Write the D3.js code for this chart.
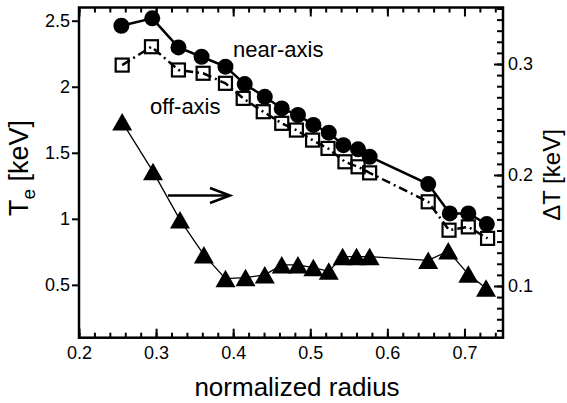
<!DOCTYPE html>
<html>
<head>
<meta charset="utf-8">
<script src="https://cdn.jsdelivr.net/npm/d3@7"></script>
<style>
  body { margin: 0; background: #fff; }
  svg { font-family: "Liberation Sans", Arial, sans-serif; }
</style>
</head>
<body>
<svg id="chart" width="567" height="403"></svg>
<script>
// normalized radius of each channel
const radiusNear = [0.255, 0.295, 0.329, 0.359, 0.390, 0.415, 0.441, 0.463, 0.484, 0.504, 0.524, 0.543, 0.562, 0.577, 0.653, 0.681, 0.705, 0.729];
const teNear = [2.462, 2.518, 2.298, 2.227, 2.152, 2.020, 1.924, 1.836, 1.786, 1.711, 1.652, 1.558, 1.526, 1.470, 1.263, 1.041, 1.041, 0.960];

const radiusOff = [0.256, 0.294, 0.329, 0.361, 0.390, 0.413, 0.439, 0.463, 0.482, 0.503, 0.523, 0.545, 0.562, 0.577, 0.653, 0.680, 0.705, 0.730];
const teOff = [2.164, 2.303, 2.127, 2.102, 2.026, 1.912, 1.811, 1.723, 1.672, 1.596, 1.533, 1.432, 1.394, 1.348, 1.129, 0.914, 0.939, 0.852];

const radiusDT = [0.256, 0.296, 0.331, 0.362, 0.390, 0.416, 0.441, 0.463, 0.484, 0.504, 0.524, 0.542, 0.560, 0.577, 0.653, 0.679, 0.705, 0.728];
const deltaT = [0.2477, 0.203, 0.1595, 0.128, 0.1066, 0.1075, 0.110, 0.119, 0.119, 0.1165, 0.1132, 0.1264, 0.1264, 0.1264, 0.123, 0.1315, 0.1105, 0.098];

const xTicks = [0.2, 0.3, 0.4, 0.5, 0.6, 0.7];
const xMinor = d3.range(0.2, 0.751, 0.02);
const yLeftTicks = [0.5, 1, 1.5, 2, 2.5];
const yRightTicks = [0.1, 0.2, 0.3];
const yRightMinor = d3.range(0.06, 0.351, 0.01);

const svg = d3.select("#chart");
const pLeft = 79, pRight = 503, pTop = 7.5, pBottom = 337.7;

const x = d3.scaleLinear().domain([0.2, 0.75]).range([pLeft, pRight]);
const yL = d3.scaleLinear().domain([0.1, 2.6]).range([pBottom, pTop]);
const yR = d3.scaleLinear().domain([0.0534, 0.3509]).range([pBottom, pTop]);

const near = radiusNear.map((r, i) => ({ r, v: teNear[i] }));
const off = radiusOff.map((r, i) => ({ r, v: teOff[i] }));
const dt = radiusDT.map((r, i) => ({ r, v: deltaT[i] }));

// axes
function styleAxis(g, w) {
    g.select(".domain").remove();
    g.selectAll(".tick line").attr("stroke", "#000").attr("stroke-width", w);
    g.selectAll(".tick text").attr("fill", "#000").attr("font-size", 18);
}

svg.append("g")
    .attr("transform", `translate(0,${pBottom})`)
    .call(d3.axisBottom(x).tickValues(xMinor).tickFormat("").tickSizeInner(-5).tickSizeOuter(0))
    .call(g => styleAxis(g, 2));
svg.append("g")
    .attr("transform", `translate(0,${pBottom})`)
    .call(d3.axisBottom(x).tickValues(xTicks).tickFormat(d3.format(".1f")).tickSizeInner(-9).tickSizeOuter(0).tickPadding(9))
    .call(g => styleAxis(g, 2));

svg.append("g")
    .attr("transform", `translate(0,${pTop})`)
    .call(d3.axisTop(x).tickValues(xMinor).tickFormat("").tickSizeInner(-5).tickSizeOuter(0))
    .call(g => styleAxis(g, 2));
svg.append("g")
    .attr("transform", `translate(0,${pTop})`)
    .call(d3.axisTop(x).tickValues(xTicks).tickFormat("").tickSizeInner(-9).tickSizeOuter(0))
    .call(g => styleAxis(g, 2));

svg.append("g")
    .attr("transform", `translate(${pLeft},0)`)
    .call(d3.axisLeft(yL).tickValues(yLeftTicks).tickFormat(d => d).tickSizeInner(7).tickSizeOuter(0).tickPadding(2))
    .call(g => styleAxis(g, 2));

svg.append("g")
    .attr("transform", `translate(${pRight},0)`)
    .call(d3.axisRight(yR).tickValues(yRightMinor).tickFormat("").tickSizeInner(-6).tickSizeOuter(0))
    .call(g => styleAxis(g, 2));
svg.append("g")
    .attr("transform", `translate(${pRight},0)`)
    .call(d3.axisRight(yR).tickValues(yRightTicks).tickFormat(d3.format(".1f")).tickSizeInner(-9).tickSizeOuter(0).tickPadding(5))
    .call(g => styleAxis(g, 2));

svg.append("rect")
    .attr("x", pLeft).attr("y", pTop)
    .attr("width", pRight - pLeft).attr("height", pBottom - pTop)
    .attr("fill", "none").attr("stroke", "#000").attr("stroke-width", 2.5);

// clip
svg.append("clipPath").attr("id", "clip")
    .append("rect").attr("x", pLeft).attr("y", pTop).attr("width", pRight - pLeft).attr("height", pBottom - pTop);
const plot = svg.append("g").attr("clip-path", "url(#clip)");

const lineL = d3.line().x(d => x(d.r)).y(d => yL(d.v));
const lineR = d3.line().x(d => x(d.r)).y(d => yR(d.v));

// delta T
plot.append("path").datum(dt).attr("d", lineR)
    .attr("fill", "none").attr("stroke", "#000").attr("stroke-width", 1.3);
plot.selectAll(".tri").data(dt).enter().append("path")
    .attr("class", "tri")
    .attr("transform", d => `translate(${x(d.r)},${yR(d.v)})`)
    .attr("d", "M0,-9L10,8.5L-10,8.5Z")
    .attr("fill", "#000");

// off-axis
plot.append("path").datum(off).attr("d", lineL)
    .attr("fill", "none").attr("stroke", "#000").attr("stroke-width", 2.5)
    .attr("stroke-dasharray", "9,4,2,4");
plot.selectAll(".sq").data(off).enter().append("rect")
    .attr("class", "sq")
    .attr("x", d => x(d.r) - 6.5).attr("y", d => yL(d.v) - 6.5)
    .attr("width", 13).attr("height", 13)
    .attr("fill", "none").attr("stroke", "#000").attr("stroke-width", 2.2);

// near-axis
plot.append("path").datum(near).attr("d", lineL)
    .attr("fill", "none").attr("stroke", "#000").attr("stroke-width", 2.5);
plot.selectAll(".dot").data(near).enter().append("circle")
    .attr("class", "dot")
    .attr("cx", d => x(d.r)).attr("cy", d => yL(d.v))
    .attr("r", 8).attr("fill", "#000");

// annotations
svg.append("text").attr("x", 233).attr("y", 57).attr("font-size", 22).text("near-axis");
svg.append("text").attr("x", 150).attr("y", 114).attr("font-size", 22).text("off-axis");

svg.append("line").attr("x1", 168).attr("x2", 229).attr("y1", 195.5).attr("y2", 195.5)
    .attr("stroke", "#000").attr("stroke-width", 2.5);
svg.append("path").attr("d", "M210,188L230,195.5L210,203")
    .attr("fill", "none").attr("stroke", "#000").attr("stroke-width", 2.5);

// axis titles
svg.append("text").attr("x", 297).attr("y", 396).attr("text-anchor", "middle")
    .attr("font-size", 26).text("normalized radius");

const yt = svg.append("text").attr("transform", "translate(28,168) rotate(-90)")
    .attr("text-anchor", "middle").attr("font-size", 27);
yt.append("tspan").text("T");
yt.append("tspan").attr("dy", 7).attr("font-size", 19).text("e");
yt.append("tspan").attr("dy", -7).text(" [keV]");

svg.append("text").attr("transform", "translate(560,175) rotate(-90)")
    .attr("text-anchor", "middle").attr("font-size", 24).text("ΔT [keV]");
</script>
</body>
</html>
